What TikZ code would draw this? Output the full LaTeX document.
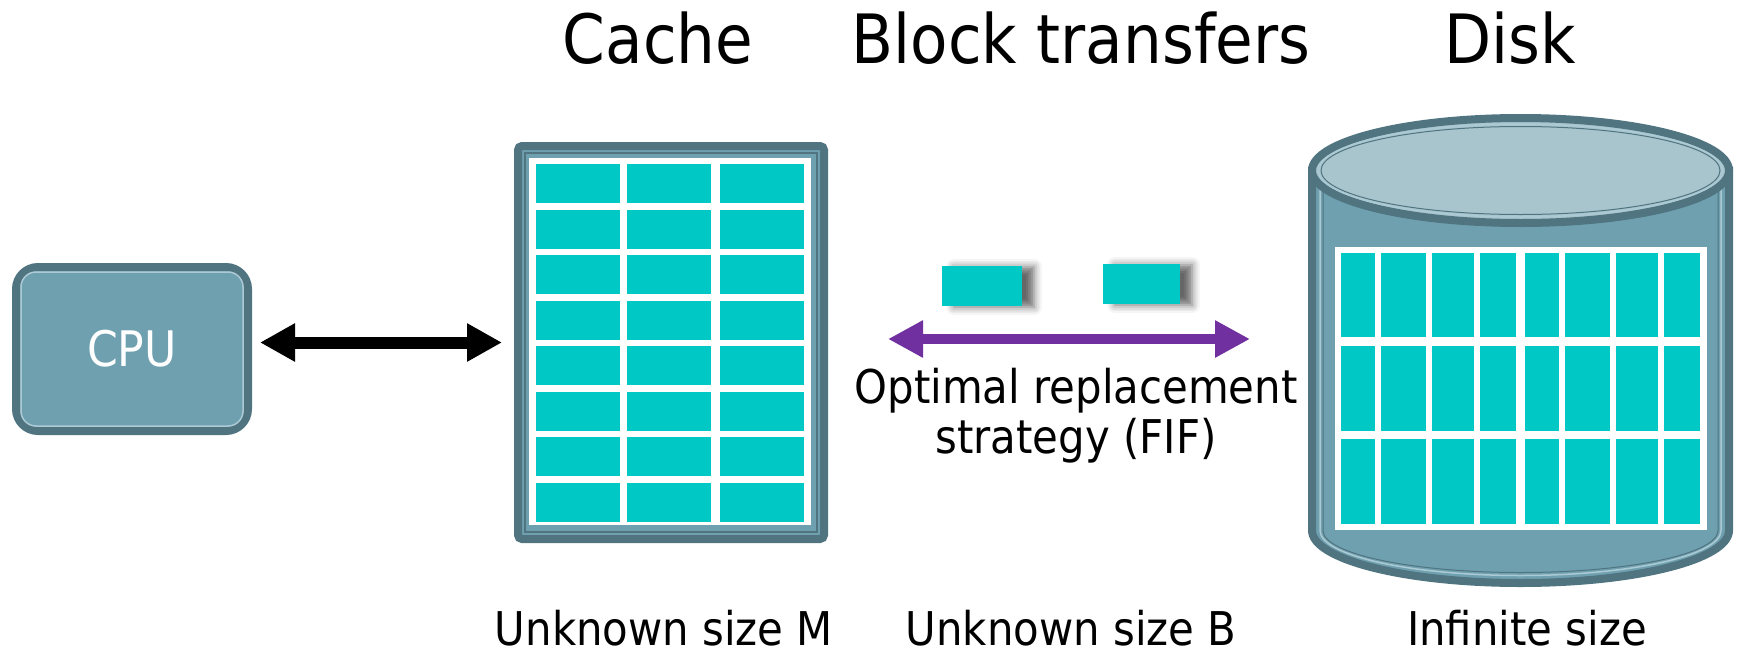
\documentclass[tikz,border=0pt]{standalone}
\usepackage{fontspec}
\setmainfont{DejaVu Sans}[FakeStretch=0.9]
\usetikzlibrary{arrows.meta,shadows.blur}
\definecolor{dk}{RGB}{80,116,128}
\definecolor{md}{RGB}{111,160,176}
\definecolor{tp}{RGB}{168,197,206}
\definecolor{lt}{RGB}{172,202,212}
\definecolor{cy}{RGB}{0,200,196}
\definecolor{pu}{RGB}{112,48,160}
\begin{document}
\begin{tikzpicture}[x=1pt,y=-1pt,
  title/.style={font=\fontsize{68}{68}\selectfont, anchor=base, inner sep=0pt},
  txt/.style={font=\fontsize{46.5}{46.5}\selectfont, anchor=base, inner sep=0pt},
  cell/.style={fill=cy},
  shell/.style={draw=dk, line width=8pt, fill=md, inner sep=0pt},
  blockbox/.style={fill=cy, inner sep=0pt, minimum height=40pt,
    blur shadow={shadow xshift=12pt, shadow yshift=-1pt, shadow blur radius=8pt, shadow opacity=60}},
  blkarrow/.style={line width=12pt, {Triangle[length=35pt,width=36pt]}-{Triangle[length=35pt,width=36pt]}},
  purarrow/.style={pu, line width=10pt, {Triangle[length=35pt,width=35pt]}-{Triangle[length=35pt,width=35pt]}}
]
\useasboundingbox (0,0) rectangle (1739,656);

% titles
\node[title] (tcache) at (658,63) {Cache};
\node[title] (tblock) at (1081,63) {Block transfers};
\node[title] (tdisk) at (1510,63) {Disk};

% CPU
\node[shell, rounded corners=22pt, minimum width=232pt, minimum height=164pt,
      text=white, font=\fontsize{49}{49}\selectfont] (cpu) at (132,349) {CPU};
\draw[lt, line width=1.5pt, rounded corners=15pt]
  ([shift={(9,9)}]cpu.north west) rectangle ([shift={(-9,-9)}]cpu.south east);

% Cache
\node[shell, rounded corners=4pt, minimum width=306pt, minimum height=393pt] (cache) at (671,342.5) {};
\draw[dk, line width=1.5pt]
  ([shift={(11,11)}]cache.north west) rectangle ([shift={(-11,-11)}]cache.south east);
\fill[white] ([shift={(15,16)}]cache.north west) rectangle ([shift={(-17,-18)}]cache.south east);
\foreach \r in {0,...,7}
  \foreach \x in {536,627,720}
    \fill[cell] (\x,164+\r*45.5) rectangle (\x+84,164+\r*45.5+39);

% CPU <-> cache
\draw[blkarrow, shorten <=8pt, shorten >=12pt] (cpu.east |- cache.west) -- (cache.west);

% block transfers
\node[blockbox, minimum width=80pt] (blk1) at (982,286) {};
\node[blockbox, minimum width=77pt] (blk2) at (1141.5,284) {};
\coordinate (pl) at (888,339);
\coordinate (pr) at (1250,339);
\draw[purarrow] (pl) -- (pr);
\node[txt] (opt1) at (1076,403) {Optimal replacement};
\node[txt] (opt2) at (1076,453) {strategy (FIF)};

% Disk
\coordinate (disk) at (1520.5,350);
\draw[dk, line width=8pt, fill=md] (1312,170.5) -- (1312,530.5)
  arc[start angle=180, end angle=360, x radius=208.5pt, y radius=52.5pt]
  -- (1729,170.5) -- cycle;
\draw[lt, line width=1.5pt] (1320,170.5) -- (1320,530.5)
  arc[start angle=180, end angle=360, x radius=200.5pt, y radius=45pt] -- (1721,170.5);
\draw[dk, line width=1pt] (1323,170.5) -- (1323,530.5)
  arc[start angle=180, end angle=360, x radius=197.5pt, y radius=42pt] -- (1718,170.5);
\draw[dk, line width=8pt, fill=tp] (1520.5,170.5) ellipse [x radius=208.5pt, y radius=52.5pt];
\draw[lt, line width=1.5pt] (1520.5,170.5) ellipse [x radius=202pt, y radius=46.5pt];
\draw[dk, line width=1pt] (1520.5,170.5) ellipse [x radius=199.5pt, y radius=44pt];
\fill[white] (1335,247) rectangle (1707,530);
\foreach \y/\h in {253/84,346/85,439/85}
  \foreach \x/\w in {1341/34,1381/45,1432/42,1480/36,1525/34,1565/45,1616/42,1664/36}
    \fill[cell] (\x,\y) rectangle (\x+\w,\y+\h);

% bottom labels
\node[txt] (lcache) at (664,645) {Unknown size M};
\node[txt] (lblock) at (1071,645) {Unknown size B};
\node[txt] (ldisk) at (1527,645) {Infinite size};
\end{tikzpicture}
\end{document}
